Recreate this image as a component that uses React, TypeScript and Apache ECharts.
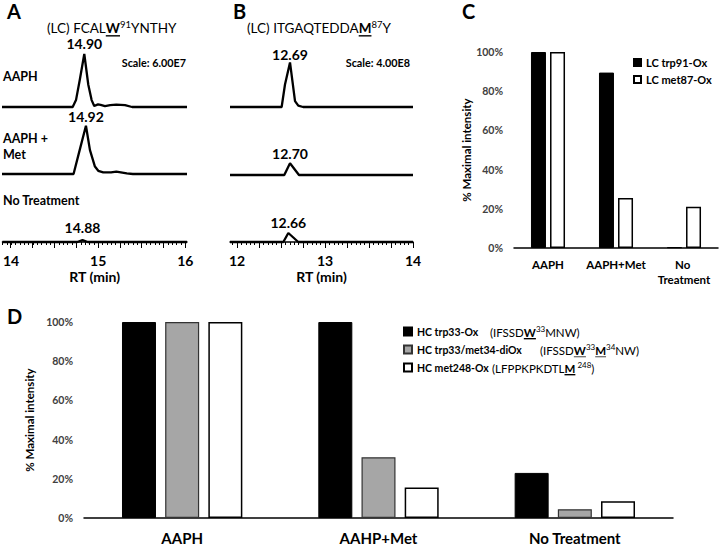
import React, { useEffect, useRef } from 'react';
import * as echarts from 'echarts';

const FONT = 'Lato, "Liberation Sans", Arial, sans-serif';

// ---- Panel A: (LC) FCALW91YNTHY extracted ion chromatograms, [RT (min), relative intensity] (scale 6.00E7)
const traceA_AAPH: number[][] = [
  [13.9, 0], [14.71, 0], [14.748, 0.13], [14.79, 0.5], [14.843, 1.0], [14.889, 0.42], [14.927, 0.13],
  [14.957, 0.02], [15.0, 0.05], [15.03, 0.04], [15.08, 0.015], [15.14, 0.035], [15.21, 0.045],
  [15.31, 0.035], [15.39, 0], [16.02, 0],
];
const traceA_Met: number[][] = [
  [13.9, 0], [14.72, 0], [14.79, 0.45], [14.862, 0.91], [14.908, 0.45], [14.965, 0.14], [15.003, 0.06],
  [15.06, 0.03], [15.15, 0.03], [15.21, 0.045], [15.33, 0.01], [15.4, 0], [16.02, 0],
];
const traceA_NT: number[][] = [[13.9, 0], [14.76, 0], [14.82, 0.035], [14.88, 0], [16.02, 0]];
const peakRtA = [14.843, 14.862, 14.82];
const peakIntA = [1.0, 0.91, 0.035];
const peakLabelA = ['14.90', '14.92', '14.88'];

// ---- Panel B: (LC) ITGAQTEDDAM87Y (scale 4.00E8)
const traceB_AAPH: number[][] = [
  [11.92, 0], [12.507, 0], [12.545, 0.5], [12.602, 0.99], [12.659, 0.13], [12.696, 0.03], [12.75, 0], [14.0, 0],
];
const traceB_Met: number[][] = [[11.92, 0], [12.537, 0], [12.602, 0.26], [12.704, 0], [14.0, 0]];
const traceB_NT: number[][] = [[11.92, 0], [12.526, 0], [12.583, 0.2], [12.696, 0], [14.0, 0]];
const peakRtB = [12.602, 12.602, 12.583];
const peakIntB = [0.99, 0.26, 0.2];
const peakLabelB = ['12.69', '12.70', '12.66'];

const rtLabelsA = [14, 15, 16];
const rtLabelsB = [12, 13, 14];

// ---- Panel C
const catC = ['AAPH', 'AAPH+Met', 'No Treatment'];
const seriesC = ['LC trp91-Ox', 'LC met87-Ox'];
const lcTrp91 = [100, 89.5, 0.4];
const lcMet87 = [100, 25.5, 21];

// ---- Panel D
const catD = ['AAPH', 'AAHP+Met', 'No Treatment'];
const seriesD = ['HC trp33-Ox', 'HC trp33/met34-diOx', 'HC met248-Ox'];
const hcTrp33 = [100, 100, 23];
const hcTrp33Met34 = [100, 31, 4.5];
const hcMet248 = [100, 15.5, 8.5];

function range(a: number, b: number, step: number): number[] {
  const out: number[] = [];
  const n = Math.round((b - a) / step);
  for (let i = 0; i <= n; i++) out.push(Math.round((a + i * step) * 1000) / 1000);
  return out;
}

let _ctx: CanvasRenderingContext2D | null = null;
function measure(text: string, font: string): number {
  if (!_ctx) _ctx = document.createElement('canvas').getContext('2d');
  _ctx!.font = font;
  return _ctx!.measureText(text).width;
}

type Seg = { t: string; bold?: boolean; sup?: boolean; ul?: boolean };
function seqGraphic(x0: number, yMid: number, segs: Seg[], size: number, ulColor = '#000'): any[] {
  const els: any[] = [];
  let x = x0;
  for (const s of segs) {
    const fs = Math.round((s.sup ? size * 0.7 : size) * 10) / 10;
    const font = `${s.bold ? 'bold' : 'normal'} ${fs}px ${FONT}`;
    const w = measure(s.t, font);
    const y = s.sup ? yMid - size * 0.28 : yMid;
    els.push({
      type: 'text', x, y, silent: true,
      style: { text: s.t, font, fill: '#000', align: 'left', verticalAlign: 'middle', textAlign: 'left', textVerticalAlign: 'middle' },
    });
    if (s.ul) {
      const uy = yMid + size * 0.58;
      els.push({ type: 'line', silent: true, shape: { x1: x, y1: uy, x2: x + w, y2: uy }, style: { stroke: ulColor, lineWidth: 1.4 } });
    }
    x += w;
  }
  return els;
}

function txt(text: string, x: number, y: number, size: number, bold = true, align = 'left', color = '#000'): any {
  const font = `${bold ? 'bold' : 'normal'} ${size}px ${FONT}`;
  return {
    type: 'text', x, y, silent: true,
    style: { text, font, fill: color, align, verticalAlign: 'middle', textAlign: align, textVerticalAlign: 'middle' },
  };
}

export default function App() {
  const ref = useRef<HTMLDivElement>(null);
  useEffect(() => {
    document.body.style.margin = '0';
    const chart = echarts.init(ref.current!, null, { renderer: 'svg' });

    const gA = [{ top: 54, h: 53 }, { top: 121, h: 53 }, { top: 189, h: 53 }];
    const gB = [{ top: 62, h: 45 }, { top: 130, h: 45 }, { top: 197, h: 45 }];
    const A_MIN = 13.9, A_MAX = 16.02, B_MIN = 11.92, B_MAX = 14.0;

    const grid: any[] = [];
    gA.forEach((g) => grid.push({ left: 2, width: 185, top: g.top, height: g.h }));
    gB.forEach((g) => grid.push({ left: 230, width: 183, top: g.top, height: g.h }));
    grid.push({ left: 2, width: 185, top: gA[2].top, height: gA[2].h }); // 6: long ticks A
    grid.push({ left: 230, width: 183, top: gB[2].top, height: gB[2].h }); // 7: long ticks B
    grid.push({ left: 514, width: 204, top: 52, height: 196 }); // 8: C
    grid.push({ left: 84, width: 589, top: 322, height: 196 }); // 9: D

    const hiddenX = (gi: number, min: number, max: number) => ({ gridIndex: gi, type: 'value', min, max, show: false });
    const hiddenY = (gi: number) => ({ gridIndex: gi, type: 'value', min: 0, max: 1, show: false });
    const rtAxis = (gi: number, min: number, max: number, labels: number[], minorStart: number) => ({
      gridIndex: gi, type: 'value', min, max,
      axisLine: { show: true, onZero: false, lineStyle: { color: '#000', width: 1.5 } },
      axisTick: { show: true, customValues: range(minorStart, max, 0.05), length: 3, lineStyle: { color: '#000', width: 1 } },
      axisLabel: { show: true, customValues: labels, color: '#000', fontWeight: 'bold', fontSize: 14, fontFamily: FONT, margin: 11 },
      splitLine: { show: false },
      name: 'RT (min)', nameLocation: 'middle', nameGap: 27,
      nameTextStyle: { color: '#000', fontWeight: 'bold', fontSize: 14, fontFamily: FONT },
    });
    const longTickAxis = (gi: number, min: number, max: number, start: number, end: number) => ({
      gridIndex: gi, type: 'value', min, max,
      axisLine: { show: false },
      axisTick: { show: true, customValues: range(start, end, 0.25), length: 6, lineStyle: { color: '#000', width: 1 } },
      axisLabel: { show: false },
      splitLine: { show: false },
    });

    const xAxis: any[] = [
      hiddenX(0, A_MIN, A_MAX), hiddenX(1, A_MIN, A_MAX), rtAxis(2, A_MIN, A_MAX, rtLabelsA, 13.9),
      hiddenX(3, B_MIN, B_MAX), hiddenX(4, B_MIN, B_MAX), rtAxis(5, B_MIN, B_MAX, rtLabelsB, 11.95),
      longTickAxis(6, A_MIN, A_MAX, 14, 16), longTickAxis(7, B_MIN, B_MAX, 12, 14),
      {
        gridIndex: 8, type: 'category', data: catC,
        axisLine: { show: true, lineStyle: { color: '#000', width: 1.5 } }, axisTick: { show: false },
        axisLabel: { interval: 0, color: '#000', fontWeight: 'bold', fontSize: 11.5, fontFamily: FONT, margin: 9, width: 62, overflow: 'break', lineHeight: 15 },
      },
      {
        gridIndex: 9, type: 'category', data: catD,
        axisLine: { show: true, lineStyle: { color: '#000', width: 1.5 } }, axisTick: { show: false },
        axisLabel: { interval: 0, color: '#000', fontWeight: 'bold', fontSize: 15, fontFamily: FONT, margin: 12 },
      },
    ];
    const pctAxis = (gi: number, gap: number) => ({
      gridIndex: gi, type: 'value', min: 0, max: 100, interval: 20,
      axisLine: { show: false }, axisTick: { show: false }, splitLine: { show: false },
      axisLabel: { formatter: '{value}%', color: '#404040', fontWeight: 'bold', fontSize: 10.5, fontFamily: FONT, margin: 11 },
      name: '% Maximal intensity', nameLocation: 'middle', nameGap: gap, nameRotate: 90,
      nameTextStyle: { color: '#000', fontWeight: 'bold', fontSize: 11.5, fontFamily: FONT },
    });
    const yAxis: any[] = [
      hiddenY(0), hiddenY(1), hiddenY(2), hiddenY(3), hiddenY(4), hiddenY(5), hiddenY(6), hiddenY(7),
      pctAxis(8, 40), pctAxis(9, 44),
    ];

    const trace = (gi: number, data: number[][], rt: number, inten: number, label: string, dist: number) => ({
      type: 'line', xAxisIndex: gi, yAxisIndex: gi, data, showSymbol: false, symbol: 'none',
      lineStyle: { color: '#000', width: 2.3 }, silent: true, clip: false, z: 3,
      markPoint: {
        symbol: 'circle', symbolSize: 0, silent: true,
        data: [{ coord: [rt, inten], value: label }],
        label: { show: true, position: 'top', distance: dist, formatter: label, color: '#000', fontWeight: 'bold', fontSize: 14, fontFamily: FONT },
      },
    });

    const series: any[] = [
      trace(0, traceA_AAPH, peakRtA[0], peakIntA[0], peakLabelA[0], 4),
      trace(1, traceA_Met, peakRtA[1], peakIntA[1], peakLabelA[1], 2),
      trace(2, traceA_NT, peakRtA[2], peakIntA[2], peakLabelA[2], 6),
      trace(3, traceB_AAPH, peakRtB[0], peakIntB[0], peakLabelB[0], 1),
      trace(4, traceB_Met, peakRtB[1], peakIntB[1], peakLabelB[1], 3),
      trace(5, traceB_NT, peakRtB[2], peakIntB[2], peakLabelB[2], 4),
      {
        type: 'bar', name: seriesC[0], xAxisIndex: 8, yAxisIndex: 8, data: lcTrp91, barWidth: 15, barGap: '27%',
        itemStyle: { color: '#000', borderColor: '#000', borderWidth: 1 },
      },
      {
        type: 'bar', name: seriesC[1], xAxisIndex: 8, yAxisIndex: 8, data: lcMet87, barWidth: 15, barGap: '27%',
        itemStyle: { color: '#fff', borderColor: '#000', borderWidth: 1.5 },
      },
      {
        type: 'bar', name: seriesD[0], xAxisIndex: 9, yAxisIndex: 9, data: hcTrp33, barWidth: 34, barGap: '27%',
        itemStyle: { color: '#000', borderColor: '#000', borderWidth: 1 },
      },
      {
        type: 'bar', name: seriesD[1], xAxisIndex: 9, yAxisIndex: 9, data: hcTrp33Met34, barWidth: 34, barGap: '27%',
        itemStyle: { color: '#a6a6a6', borderColor: '#333', borderWidth: 1.2 },
      },
      {
        type: 'bar', name: seriesD[2], xAxisIndex: 9, yAxisIndex: 9, data: hcMet248, barWidth: 34, barGap: '27%',
        itemStyle: { color: '#fff', borderColor: '#000', borderWidth: 1.5 },
      },
    ];

    const legendText = { fontFamily: FONT, fontWeight: 'bold', color: '#000' };
    const legend: any[] = [
      {
        data: seriesC, orient: 'vertical', left: 633, top: 56, padding: 0, itemWidth: 7, itemHeight: 7, itemGap: 4, icon: 'rect',
        selectedMode: false, textStyle: { ...legendText, fontSize: 11, lineHeight: 13 },
      },
      {
        data: seriesD, orient: 'vertical', left: 403, top: 325, padding: 0, itemWidth: 8, itemHeight: 8, itemGap: 5, icon: 'rect',
        selectedMode: false, textStyle: { ...legendText, fontSize: 10.5, lineHeight: 13 },
      },
    ];

    const graphic: any[] = [
      txt('A', 7, 11, 20), txt('B', 233, 11, 20), txt('C', 462, 11, 20), txt('D', 7, 316, 20),
      ...seqGraphic(47, 28, [{ t: '(LC) FCAL' }, { t: 'W', bold: true, ul: true }, { t: '91', sup: true }, { t: 'YNTHY' }], 13.5),
      ...seqGraphic(247, 28, [{ t: '(LC) ITGAQTEDDA' }, { t: 'M', bold: true, ul: true }, { t: '87', sup: true }, { t: 'Y' }], 13.5),
      txt('Scale: 6.00E7', 186, 62, 10.8, true, 'right'),
      txt('Scale: 4.00E8', 410, 62, 10.8, true, 'right'),
      txt('AAPH', 3, 76, 12.5), txt('AAPH +', 3, 138, 12.5), txt('Met', 3, 154, 12.5), txt('No Treatment', 3, 200, 12.5),
      ...seqGraphic(490, 332, [{ t: '(IFSSD' }, { t: 'W', bold: true, ul: true }, { t: '33', sup: true }, { t: 'MNW)' }], 11.5),
      ...seqGraphic(540, 350, [{ t: '(IFSSD' }, { t: 'W', bold: true, ul: true }, { t: '33', sup: true }, { t: 'M', bold: true, ul: true }, { t: '34', sup: true }, { t: 'NW)' }], 11.5, '#777'),
      ...seqGraphic(492, 368, [{ t: '(LFPPKPKDTL' }, { t: 'M', bold: true, ul: true }, { t: ' 248', sup: true }, { t: ')' }], 11.5),
    ];

    chart.setOption({
      animation: false,
      backgroundColor: '#fff',
      grid, xAxis, yAxis, series, legend, graphic,
    });
    return () => chart.dispose();
  }, []);
  return <div ref={ref} style={{ position: 'absolute', left: 0, top: 0, width: 720, height: 546 }} />;
}
